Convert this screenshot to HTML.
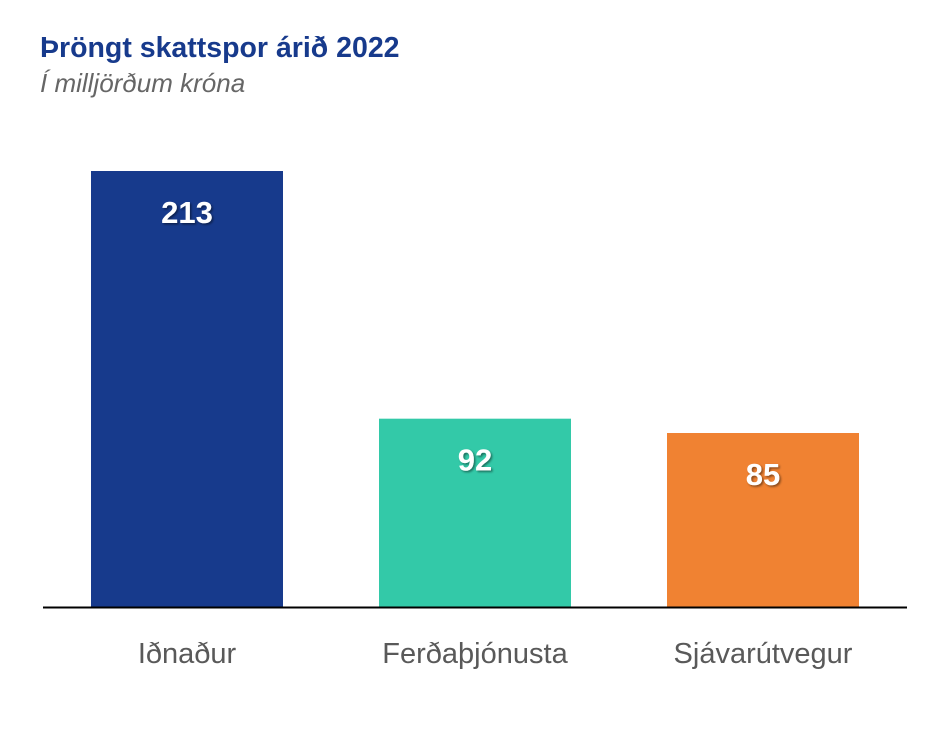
<!DOCTYPE html>
<html><head><meta charset="utf-8"><style>
body{margin:0;background:#fff;width:950px;height:727px;overflow:hidden;font-family:"Liberation Sans",Arial,sans-serif}
</style></head><body>
<svg width="950" height="727" xmlns="http://www.w3.org/2000/svg">
<defs><filter id="sh" x="-20%" y="-20%" width="140%" height="140%"><feDropShadow dx="1.5" dy="1.5" stdDeviation="1" flood-color="#000" flood-opacity="0.45"/></filter></defs>
<text x="40" y="57" font-size="28.5" font-weight="bold" fill="#173a8c">Þröngt skattspor árið 2022</text>
<text x="40" y="92" font-size="26" font-style="italic" fill="#666">Í milljörðum króna</text>
<g id="bars"></g>
<line x1="43" x2="907" y1="607.5" y2="607.5" stroke="#000" stroke-width="2"/>
</svg>
<script>
const categories = ["Iðnaður", "Ferðaþjónusta", "Sjávarútvegur"];
const values = [213, 92, 85];
const colors = ["#173a8c", "#33c9a8", "#f08232"];
const NS = "http://www.w3.org/2000/svg";
const baseY = 607, scale = 436 / 213;
const y = v => baseY - v * scale;
const x = i => 91 + i * 288;
const barW = 192;
const g = document.getElementById("bars");
categories.forEach((c, i) => {
  const r = document.createElementNS(NS, "rect");
  
  
  r.setAttribute("x", x(i)); r.setAttribute("y", y(values[i]));
  r.setAttribute("width", barW); r.setAttribute("height", baseY - y(values[i]));
  r.setAttribute("fill", colors[i]);
  g.appendChild(r);
  const t = document.createElementNS(NS, "text");
  
  
  t.setAttribute("x", x(i) + barW / 2); t.setAttribute("y", y(values[i]) + 52);
  t.setAttribute("text-anchor", "middle"); t.setAttribute("font-size", "31");
  t.setAttribute("font-weight", "bold"); t.setAttribute("fill", "#fff");
  t.setAttribute("filter", "url(#sh)");
  t.textContent = values[i];
  g.appendChild(t);
  const l = document.createElementNS(NS, "text");
  
  
  l.setAttribute("x", x(i) + barW / 2); l.setAttribute("y", 663);
  l.setAttribute("text-anchor", "middle"); l.setAttribute("font-size", "29");
  l.setAttribute("fill", "#595959");
  l.textContent = c;
  g.appendChild(l);
});
</script>
</body></html>
